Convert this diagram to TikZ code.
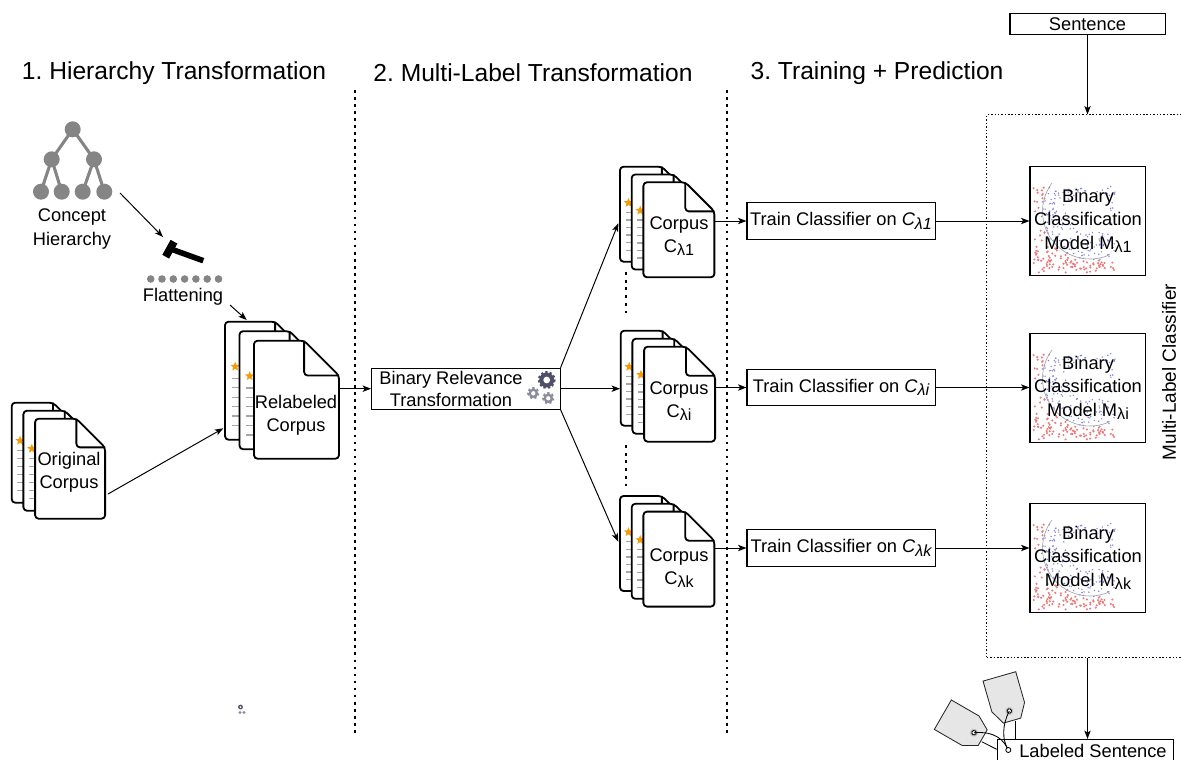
\documentclass[tikz,border=0pt]{standalone}
\usepackage{fontspec}
\setmainfont{Liberation Sans}
\usetikzlibrary{arrows.meta,shapes.geometric}
\definecolor{treegray}{HTML}{858585}
\definecolor{ruledgray}{HTML}{A6A6A6}
\definecolor{starorange}{HTML}{F59A00}
\definecolor{gearblue}{HTML}{4F4F68}
\definecolor{geargray}{HTML}{8C8C9C}
\definecolor{dotred}{HTML}{F07878}
\definecolor{dotblue}{HTML}{8080E6}
\definecolor{tagfill}{HTML}{E6E6E6}
\frenchspacing

\newcommand\lsub[1]{\raisebox{-0.35ex}{\fontsize{11.5}{12}\selectfont #1}}

% one page with a folded corner
\newcommand\docsheet[4]{%
  \pgfmathsetmacro\fold{0.41*#3}%
  \filldraw[doc] (#1,#2) -- ({#1+#3-\fold},#2) -- ({#1+#3},{#2+\fold}) -- ({#1+#3},{#2+#4}) -- (#1,{#2+#4}) -- cycle;
  \draw[doc,fill=none] ({#1+#3-\fold},#2) -- ({#1+#3-\fold},{#2+\fold}) -- ({#1+#3},{#2+\fold});
}
% three pages, the front one gets a name
\newcommand\docstack[7]{%
  \foreach \k in {0,1,2}{%
    \pgfmathsetmacro\sx{#2+\k*#6}%
    \pgfmathsetmacro\sy{#3+\k*#7}%
    \docsheet{\sx}{\sy}{#4}{#5}
    \ifnum\k<2
      \node[star,star points=5,star point ratio=2.3,fill=starorange,inner sep=0pt,minimum size=7pt] at ({\sx+0.12*#4},{\sy+0.38*#5}) {};
      \foreach \j in {0,...,5}
        \draw[ruled] ({\sx+0.08*#4},{\sy+(0.48+0.08*\j)*#5}) -- ++({0.3*#4},0);
    \fi
  }%
  \node[inner sep=0pt,minimum width=#4*0.025cm,minimum height=#5*0.025cm] (#1) at ({#2+2*#6+#4/2},{#3+2*#7+#5/2}) {};
}
% scatter of the two classes and the boundary
\newcommand\modeldots[2]{%
  \foreach \i in {1,...,330}{%
    \pgfmathsetmacro\dotx{3+rnd*82}%
    \pgfmathsetmacro\doty{20+rnd*86}%
    \pgfmathsetmacro\dist{veclen(\dotx-60,\doty-45)}%
    \ifdim\dist pt>49pt
      \fill[dotred] ({#1+\dotx},{#2+\doty}) circle[radius=1.15];
    \else\ifdim\dist pt>20pt
      \fill[dotblue] ({#1+\dotx},{#2+\doty}) circle[radius=0.8];
    \fi\fi
  }%
  \draw[gray!80,line width=0.4pt] plot[domain=65:217,samples=40] ({#1+60+47.5*cos(\x)},{#2+45+47.5*sin(\x)});
}
\newcommand\drawgear[4]{%
  \fill[#4] (#1,#2) circle[radius=#3];
  \draw[#4,line width=2pt,dash pattern=on 1.5pt off 1.5pt] (#1,#2) circle[radius=#3];
  \fill[white] (#1,#2) circle[radius={0.45*#3}];
}
\newcommand\pricetag[3]{%
  \begin{scope}[shift={(#1,#2)},rotate=#3]
    \filldraw[fill=tagfill,draw=black!85,line width=0.6pt] (-17,-36) -- (17,-36) -- (17,-4) -- (9,10) -- (-9,10) -- (-17,-4) -- cycle;
    \fill[black!25] (0,0) circle[radius=4];
    \filldraw[fill=white,line width=0.6pt] (0,0) circle[radius=2.2];
  \end{scope}
}

\begin{document}
\begin{tikzpicture}[x=0.025cm,y=-0.025cm,
    every node/.style={font=\fontsize{13}{16.5}\selectfont},
    title/.style={font=\fontsize{17.5}{21}\selectfont},
    arr/.style={-{Stealth[length=6pt,width=4.5pt,inset=1.5pt]},line width=0.7pt},
    box/.style={draw,line width=0.75pt,fill=white,inner sep=0pt},
    sep/.style={line width=2pt,dash pattern=on 2pt off 3pt},
    doc/.style={draw,line width=1.3pt,fill=white,rounded corners=2.5pt,line join=round},
    ruled/.style={ruledgray,line width=1pt}]
  \useasboundingbox (0,0) rectangle (1181,760);
  \clip (0,0) rectangle (1181,760);

  % the three phases
  \draw[sep] (355,90) -- (355,735);
  \draw[sep] (727,90) -- (727,735);
  \node[title] (t1) at (174,73) {1. Hierarchy Transformation};
  \node[title] (t2) at (533,73) {2. Multi-Label Transformation};
  \node[title] (t3) at (877,73) {3. Training + Prediction};

  % concept hierarchy
  \coordinate (root) at (72.7,129.3);
  \coordinate (m1) at (51.7,159.3);
  \coordinate (m2) at (94,159.3);
  \coordinate (l1) at (41,191.7);
  \coordinate (l2) at (61.7,191.7);
  \coordinate (l3) at (82.7,191.7);
  \coordinate (l4) at (104.3,191.7);
  \foreach \p/\c in {root/m1,root/m2,m1/l1,m1/l2,m2/l3,m2/l4}
    \draw[treegray,line width=2.2pt] (\p) -- (\c);
  \foreach \n in {root,m1,m2,l1,l2,l3,l4}
    \fill[treegray] (\n) circle[radius=8];
  \node[align=center] (hiertext) at (72,229) {Concept\\Hierarchy};

  % flattening
  \coordinate (treeout) at (120,193);
  \coordinate (hammer) at (163,237);
  \draw[arr] (treeout) -- (hammer);
  \draw[line width=4pt] (203.3,260.7) -- (171.7,249.3);
  \draw[line width=5.5pt] (165.7,256.7) -- (174,241.7);
  \foreach \k in {0,...,6}
    \fill[treegray] ({150.7+11.3*\k},279) circle[radius=3.8];
  \node (flattext) at (183,297) {Flattening};

  % corpora
  \docstack{orig}{11.7}{402.7}{70}{100}{11.7}{8}
  \node[align=center] (origtext) at (69,472) {Original\\Corpus};
  \docstack{relab}{225}{321.7}{85}{118}{14.5}{9.5}
  \node[align=center] (relabtext) at (296,415) {Relabeled\\Corpus};
  \coordinate (flatout) at (230,305);
  \coordinate (relabtop) at (246.7,320);
  \coordinate (origout) at (108,494);
  \coordinate (relabin) at (223.3,428.3);
  \draw[arr] (flatout) -- (relabtop);
  \draw[arr] (origout) -- (relabin);

  % binary relevance
  \node[box,minimum width=4.71cm,minimum height=1.02cm] (br) at (465.8,388.7) {};
  \node[align=center,font=\fontsize{13}{15.5}\selectfont] (brtext) at (451,389) {Binary Relevance\\Transformation};
  \drawgear{546.7}{380}{7.5}{gearblue}
  \drawgear{533.3}{393.3}{4.8}{geargray}
  \drawgear{548.3}{398.3}{4.8}{geargray}
  \draw[arr] (relab.east |- br) -- (br);

  \docstack{c1}{620}{166.7}{71}{95}{11.7}{7.8}
  \docstack{c2}{620.7}{330.7}{71}{95}{11.7}{8}
  \docstack{c3}{620}{496}{71}{95}{11.7}{7.8}
  \node[align=center] (c1text) at (679,236) {Corpus\\C\lsub{λ1}};
  \node[align=center] (c2text) at (679,401) {Corpus\\C\lsub{λi}};
  \node[align=center] (c3text) at (679,568) {Corpus\\C\lsub{λk}};
  \draw[sep,dash pattern=on 2pt off 3.5pt] (626,272) -- (626,318);
  \draw[sep,dash pattern=on 2pt off 3.5pt] (626,445) -- (626,487);
  \coordinate (in1) at (618.3,223.3);
  \coordinate (in2) at (620,388.7);
  \coordinate (in3) at (618.3,541.7);
  \draw[arr] (br.north east) -- (in1);
  \draw[arr] (br.east) -- (in2);
  \draw[arr] (br.south east) -- (in3);

  % training and the binary models
  \node[draw,dash pattern=on 1pt off 1.4pt,line width=0.7pt,minimum width=5.4cm,minimum height=13.55cm,inner sep=0pt] (mlc) at (1095,386) {};
  \node[rotate=90,font=\fontsize{13.5}{16}\selectfont] (mlctext) at (1169,372) {Multi-Label Classifier};
  \foreach \m/\yc/\ym/\lab in {1/221/221/λ1,2/387.5/388/λi,3/548/558/λk}{
    \node[box,minimum width=4.7cm,minimum height=0.92cm] (train\m) at (841,\yc) {Train Classifier on \textit{C\lsub{\lab}}};
    \node[box,minimum width=2.875cm,minimum height=2.725cm] (model\m) at (1087.5,\ym) {};
    \pgfmathsetseed{17}
    \modeldots{1030}{\ym-54.5}
    \node[align=center] (modeltext\m) at (1088,\ym) {Binary\\Classification\\Model M\lsub{\lab}};
    \draw[arr] (c\m.east |- train\m) -- (train\m);
    \draw[arr] (train\m) -- (train\m -| model\m.west);
  }

  % prediction
  \node[box,minimum width=3.875cm,minimum height=0.525cm] (sent) at (1087.5,23.8) {Sentence};
  \node[box,anchor=north west,minimum width=4.415cm,minimum height=0.6cm] (labeled) at (996.7,739) {};
  \node[anchor=west,inner sep=0pt] (labeledtext) at (1019,751) {Labeled Sentence};
  \draw[arr] (sent) -- (sent |- mlc.north);
  \draw[arr] (sent |- mlc.south) -- (sent |- labeled.north);

  % tags
  \coordinate (hole1) at (974,732.7);
  \coordinate (hole2) at (1009.3,711);
  \coordinate (ring) at (1008.3,750);
  \draw[line width=0.6pt] (1015.7,721) -- (1015.7,739);
  \draw[line width=0.6pt] (981.7,741.7) -- (996.7,749.3);
  \pricetag{974}{732.7}{60}
  \pricetag{1009.3}{711}{16}
  \draw[line width=0.6pt] (hole2) .. controls (1002,725) and (1002,740) .. (ring);
  \draw[line width=0.6pt] (hole1) .. controls (995,731) and (1004,740) .. (ring);
  \filldraw[fill=white,line width=0.6pt] (ring) circle[radius=2.5];

  % stray gear icon
  \fill[gearblue] (240.5,707) circle[radius=2.4];
  \fill[white] (240.5,707) circle[radius=1];
  \fill[geargray] (240,712.5) circle[radius=1.6];
  \fill[geargray] (244,712.5) circle[radius=1.6];
\end{tikzpicture}
\end{document}
